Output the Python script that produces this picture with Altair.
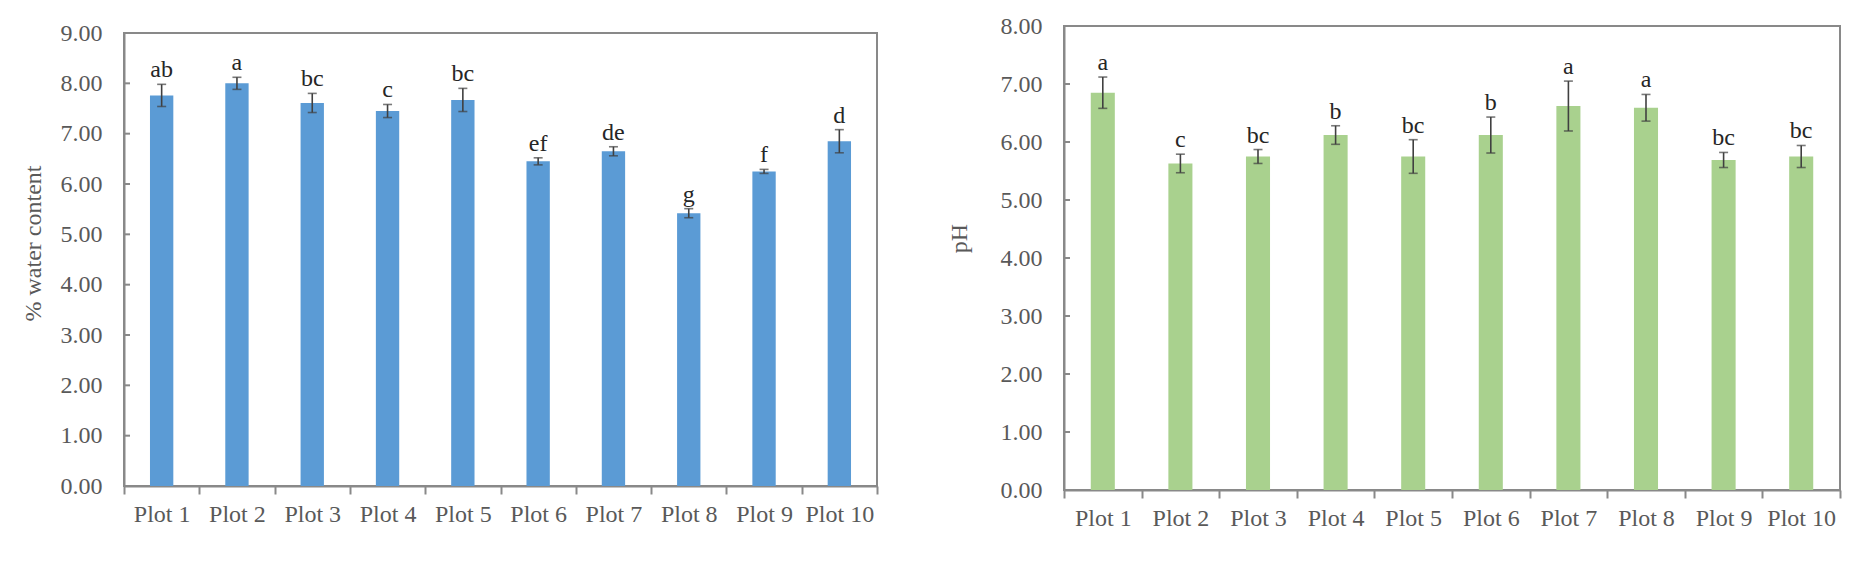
import altair as alt
import pandas as pd

plots = ["Plot 1", "Plot 2", "Plot 3", "Plot 4", "Plot 5",
         "Plot 6", "Plot 7", "Plot 8", "Plot 9", "Plot 10"]

water = [7.76, 8.00, 7.61, 7.45, 7.67, 6.45, 6.65, 5.42, 6.25, 6.85]
water_err = [0.22, 0.12, 0.19, 0.13, 0.23, 0.07, 0.09, 0.09, 0.04, 0.23]
water_letters = ["ab", "a", "bc", "c", "bc", "ef", "de", "g", "f", "d"]
water_ticks = [0, 1, 2, 3, 4, 5, 6, 7, 8, 9]

ph = [6.85, 5.63, 5.75, 6.12, 5.75, 6.12, 6.62, 6.59, 5.69, 5.75]
ph_err = [0.27, 0.16, 0.12, 0.16, 0.29, 0.31, 0.43, 0.23, 0.13, 0.19]
ph_letters = ["a", "c", "bc", "b", "bc", "b", "a", "a", "bc", "bc"]
ph_ticks = [0, 1, 2, 3, 4, 5, 6, 7, 8]

FONT = "Liberation Serif"
AXIS_GRAY = "#898989"
TEXT_GRAY = "#595959"
ERR_COLOR = "#404040"


def panel(vals, errs, letters, ticks, color, ytitle, w, h, title_y, title_pad):
    df = pd.DataFrame({"plot": plots, "v": vals, "e": errs, "lab": letters})
    tdf = pd.DataFrame({"t": ticks})
    ymax = ticks[-1]
    yscale = alt.Scale(domain=[0, ymax], nice=False, zero=True)
    x = alt.X("plot:N", sort=plots,
              scale=alt.Scale(paddingInner=0, paddingOuter=0),
              axis=alt.Axis(title=None, labelAngle=0, tickBand="extent",
                            tickSize=8, labelPadding=8))
    xs = alt.X("plot:N", sort=plots)
    base = alt.Chart(df).transform_calculate(
        lo="datum.v - datum.e", hi="datum.v + datum.e")
    bars = base.mark_bar(color=color, width=alt.RelativeBandSize(0.31)).encode(
        x=x,
        y=alt.Y("v:Q", scale=yscale,
                axis=alt.Axis(title=ytitle, values=ticks, format=".2f",
                              grid=False, tickSize=0, labelPadding=22,
                              titlePadding=title_pad, titleY=title_y)),
    )
    rule = base.mark_rule(color=ERR_COLOR, strokeWidth=1.6).encode(
        x=xs, y=alt.Y("lo:Q", scale=yscale), y2="hi:Q")
    cap_hi = base.mark_tick(color=ERR_COLOR, thickness=1.6, size=9).encode(
        x=xs, y=alt.Y("hi:Q", scale=yscale))
    cap_lo = base.mark_tick(color=ERR_COLOR, thickness=1.6, size=9).encode(
        x=xs, y=alt.Y("lo:Q", scale=yscale))
    text = base.mark_text(dy=-7, baseline="alphabetic", fontSize=24,
                          font=FONT, color="#262626").encode(
        x=xs, y=alt.Y("hi:Q", scale=yscale), text="lab:N")
    yticks = alt.Chart(tdf).mark_rule(color=AXIS_GRAY, strokeWidth=2).encode(
        y=alt.Y("t:Q", scale=yscale), x=alt.value(0), x2=alt.value(6))
    return alt.layer(bars, rule, cap_hi, cap_lo, text, yticks).properties(
        width=w, height=h)


def spacer(h):
    return alt.Chart(pd.DataFrame({"a": [0]})).mark_point(
        opacity=0, size=1).encode(
        x=alt.value(0), y=alt.value(0)
    ).properties(width=1, height=h,
                 view=alt.ViewBackground(strokeOpacity=0))


left = panel(water, water_err, water_letters, water_ticks, "#5B9BD5",
             "% water content", 753, 453, 210, 15)
right = panel(ph, ph_err, ph_letters, ph_ticks, "#A9D18E",
              "pH", 776, 464, 212, 29)

left_group = alt.vconcat(spacer(8), left, spacing=0)
right_group = alt.vconcat(spacer(1), right, spacing=0)

chart = alt.hconcat(left_group, right_group, spacing=67).properties(
    padding={"left": 12, "top": 3, "right": 5, "bottom": 5}
).configure_view(
    stroke=AXIS_GRAY, strokeWidth=2
).configure_axis(
    labelFont=FONT, titleFont=FONT, labelFontSize=24, titleFontSize=24,
    labelColor=TEXT_GRAY, titleColor=TEXT_GRAY, titleFontWeight="normal",
    domainColor=AXIS_GRAY, tickColor=AXIS_GRAY, domainWidth=2, tickWidth=2
)

chart.save("out.html", embed_options={"renderer": "svg", "actions": False})
